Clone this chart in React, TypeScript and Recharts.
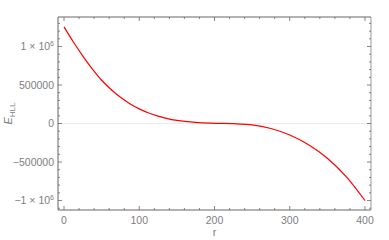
import { LineChart, Line, XAxis, YAxis, ReferenceLine } from "recharts";

const rValues = [
  0, 12.5, 25, 37.5, 50, 62.5, 75, 87.5, 100, 112.5, 125, 137.5, 150, 175, 200, 225, 250, 275, 300, 325, 350, 375, 400,
];
const eValues = [
  1255000, 1058000, 876000, 710000, 562000, 442000, 340000, 257000, 190000, 137000, 96000, 64000, 41000, 14000, 3000,
  -2000, -17000, -65000, -150000, -275000, -450000, -690000, -1000000,
];

const xTicks = [0, 20, 40, 60, 80, 100, 120, 140, 160, 180, 200, 220, 240, 260, 280, 300, 320, 340, 360, 380, 400];
const yTicks = [
  -1100000, -1000000, -900000, -800000, -700000, -600000, -500000, -400000, -300000, -200000, -100000, 0, 100000,
  200000, 300000, 400000, 500000, 600000, 700000, 800000, 900000, 1000000, 1100000, 1200000, 1300000,
];

const data = rValues.map((r, i) => ({ r, e: eValues[i] }));

const FRAME = "#666";
const LABEL = "#808080";
const FONT = "'Liberation Sans', Arial, sans-serif";

const XTick = (props: any) => {
  const { x, y, payload, side } = props;
  const v = payload.value;
  const major = v % 100 === 0;
  const len = major ? 4 : 2;
  const dir = side === "top" ? 1 : -1;
  return (
    <g>
      <line x1={x} y1={y} x2={x} y2={y + dir * len} stroke={FRAME} strokeWidth={0.8} />
      {side === "bottom" && major && (
        <text x={x} y={y + 14} textAnchor="middle" fill={LABEL} fontSize={10.5} fontFamily={FONT}>
          {v}
        </text>
      )}
    </g>
  );
};

const yLabel = (v: number) => {
  if (Math.abs(v) === 1000000) {
    return (
      <>
        {v < 0 ? "\u2212" : ""}1 × 10
        <tspan dy={-4} fontSize={7}>
          6
        </tspan>
      </>
    );
  }
  return v < 0 ? "\u2212" + Math.abs(v) : String(v);
};

const YTick = (props: any) => {
  const { x, y, payload, side } = props;
  const v = payload.value;
  const major = v % 500000 === 0;
  const len = major ? 4 : 2;
  const dir = side === "right" ? -1 : 1;
  return (
    <g>
      <line x1={x} y1={y} x2={x + dir * len} y2={y} stroke={FRAME} strokeWidth={0.8} />
      {side === "left" && major && (
        <text x={x - 4} y={y + 3.5} textAnchor="end" fill={LABEL} fontSize={10.5} fontFamily={FONT}>
          {yLabel(v)}
        </text>
      )}
    </g>
  );
};

const YTitle = (props: any) => {
  const vb = props.viewBox;
  const cx = vb.x - 45;
  const cy = vb.y + vb.height / 2;
  return (
    <text
      x={cx}
      y={cy}
      transform={`rotate(-90 ${cx} ${cy})`}
      textAnchor="middle"
      fill={LABEL}
      fontSize={11}
      fontFamily={FONT}
    >
      <tspan fontStyle="italic">E</tspan>
      <tspan dy={2.5} fontSize={8}>
        HLL
      </tspan>
    </text>
  );
};

const XTitle = (props: any) => {
  const vb = props.viewBox;
  return (
    <text
      x={vb.x + vb.width / 2}
      y={vb.y + 26}
      textAnchor="middle"
      fill={LABEL}
      fontSize={11}
      fontFamily={FONT}
    >
      r
    </text>
  );
};

export default function App() {
  return (
    <div style={{ position: "absolute", left: 0, top: 0, width: 389, height: 240, background: "#fff" }}>
      <LineChart width={389} height={240} data={data} margin={{ top: 16, right: 17, bottom: 29, left: 57 }}>
        <XAxis
          dataKey="r"
          type="number"
          domain={[-8, 408]}
          ticks={xTicks}
          allowDataOverflow
          height={1}
          tickSize={0}
          tickMargin={0}
          stroke={FRAME}
          axisLine={{ stroke: "#999", strokeWidth: 1.5 }}
          tick={(p: any) => <XTick {...p} side="bottom" />}
          interval={0}
          label={{ content: XTitle }}
        />
        <XAxis
          xAxisId="top"
          orientation="top"
          dataKey="r"
          type="number"
          domain={[-8, 408]}
          ticks={xTicks}
          allowDataOverflow
          height={1}
          tickSize={0}
          tickMargin={0}
          axisLine={{ stroke: FRAME, strokeWidth: 1 }}
          tick={(p: any) => <XTick {...p} side="top" />}
          interval={0}
        />
        <YAxis
          type="number"
          domain={[-1123000, 1383000]}
          ticks={yTicks}
          allowDataOverflow
          width={1}
          tickSize={0}
          tickMargin={0}
          axisLine={{ stroke: FRAME, strokeWidth: 1 }}
          tick={(p: any) => <YTick {...p} side="left" />}
          interval={0}
          label={{ content: YTitle }}
        />
        <YAxis
          yAxisId="right"
          orientation="right"
          type="number"
          domain={[-1123000, 1383000]}
          ticks={yTicks}
          allowDataOverflow
          width={1}
          tickSize={0}
          tickMargin={0}
          axisLine={{ stroke: "#999", strokeWidth: 1 }}
          tick={(p: any) => <YTick {...p} side="right" />}
          interval={0}
        />
        <ReferenceLine y={0} stroke="#ebebeb" strokeWidth={1.2} />
        <Line
          type="monotone"
          dataKey="e"
          stroke="#f00"
          strokeWidth={1.2}
          dot={false}
          isAnimationActive={false}
        />
      </LineChart>
    </div>
  );
}
